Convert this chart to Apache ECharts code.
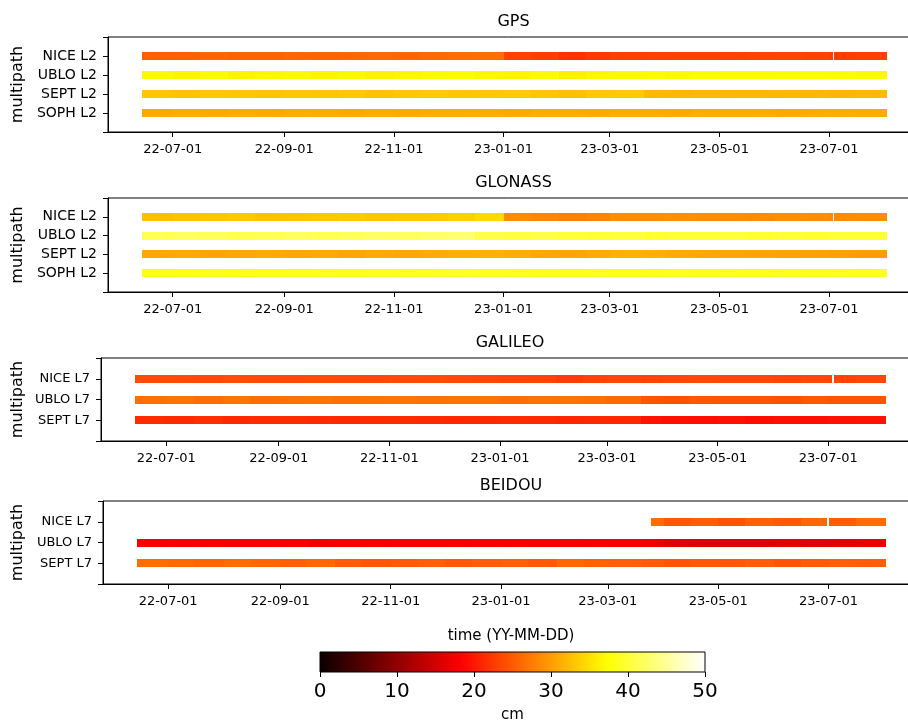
<!DOCTYPE html>
<html><head><meta charset="utf-8">
<script src="https://cdn.jsdelivr.net/npm/echarts@6/dist/echarts.min.js"></script>
<style>html,body{margin:0;padding:0;background:#fff}#c{width:908px;height:720px}</style>
</head><body><div id="c"></div>
<script>
// ---------- data ----------
// half-month blocks (start inclusive, next edge exclusive)
const blockEdges = ['2022-06-14','2022-07-01','2022-07-16','2022-08-01','2022-08-16','2022-09-01','2022-09-16',
  '2022-10-01','2022-10-16','2022-11-01','2022-11-16','2022-12-01','2022-12-16','2023-01-01','2023-01-16',
  '2023-02-01','2023-02-16','2023-03-01','2023-03-20','2023-04-01','2023-04-16','2023-05-01','2023-05-16',
  '2023-06-01','2023-06-16','2023-07-01','2023-07-16','2023-08-02'];
const xMinDate = '2022-05-26';
const xMaxDate = '2023-08-20';
const xTickDates = ['2022-07-01','2022-09-01','2022-11-01','2023-01-01','2023-03-01','2023-05-01','2023-07-01'];
const colorbarTicks = [0, 10, 20, 30, 40, 50];

// GPS (cm)
const gpsLabels = ['SOPH L2','SEPT L2','UBLO L2','NICE L2'];
const gpsNice = [25.3,25.5,25.8,25.6,25.7,25.9,25.6,25.8,26.0,25.8,26.2,26.3,26.5,23.0,22.8,22.0,22.6,22.9,23.0,23.2,23.1,23.0,23.3,23.4,23.2,22.8,22.9];
const gpsUblo = [36.8,36.5,36.9,36.4,36.6,36.8,36.5,36.7,36.3,36.6,36.9,37.1,36.6,36.4,36.9,36.2,36.6,36.8,37.0,36.8,37.2,37.0,37.1,37.3,37.4,37.3,36.9];
const gpsSept = [33.0,32.8,33.2,33.0,32.9,33.1,33.0,33.2,32.8,33.1,33.3,33.0,33.2,33.4,33.0,32.6,33.2,33.3,32.2,32.0,32.1,31.9,32.0,32.2,32.0,31.8,32.1];
const gpsSoph = [30.9,31.1,30.8,31.0,30.9,31.2,31.0,30.8,31.1,30.9,31.0,31.2,31.0,30.9,31.1,31.0,30.8,31.1,31.0,30.9,31.2,31.0,31.1,30.8,31.0,31.2,31.0];
// GLONASS (cm)
const gloLabels = ['SOPH L2','SEPT L2','UBLO L2','NICE L2'];
const gloNice = [32.5,32.8,33.0,33.2,32.7,32.9,33.1,33.3,33.0,33.2,33.4,33.8,34.5,28.6,28.3,27.8,28.2,28.8,28.9,29.0,28.8,28.9,28.7,29.0,28.8,28.6,28.9];
const gloUblo = [41.5,42.0,41.8,41.2,41.6,42.0,41.5,41.8,42.3,42.0,42.5,43.0,41.0,40.5,40.8,40.2,40.0,40.3,39.8,40.0,39.9,40.2,39.8,40.0,39.7,40.1,40.0];
const gloSept = [30.8,31.0,30.6,30.9,31.1,30.8,31.0,30.7,31.0,30.9,31.1,31.3,31.5,31.2,30.9,30.6,31.0,31.6,31.4,31.0,30.8,30.7,30.6,30.4,30.3,30.2,30.0];
const gloSoph = [38.3,38.6,38.8,38.5,38.7,38.9,39.0,38.8,39.2,39.0,39.3,39.5,39.2,39.0,38.8,38.9,39.0,38.7,38.9,39.1,38.8,39.0,38.9,39.1,38.8,39.0,38.9];
// GALILEO (cm)
const galLabels = ['SEPT L7','UBLO L7','NICE L7'];
const galNice = [23.9,24.0,23.8,24.1,23.9,23.8,24.0,23.9,23.7,23.9,24.0,23.8,23.6,23.5,23.3,22.8,23.4,23.6,23.5,23.7,23.8,23.6,23.7,23.5,23.6,23.4,23.6];
const galUblo = [26.6,26.9,26.5,26.8,26.4,26.7,26.9,26.6,26.8,27.0,26.7,26.9,26.8,26.5,26.7,26.9,26.6,26.2,24.6,24.4,24.7,24.5,24.6,24.4,24.8,24.5,24.6];
const galSept = [21.5,21.3,21.6,21.2,21.4,21.5,21.3,21.2,21.4,21.5,21.3,21.1,21.2,21.4,21.3,21.0,21.2,21.1,19.6,19.4,19.3,19.5,19.2,19.4,19.3,19.5,19.6];
// BEIDOU (cm)
const bdsLabels = ['SEPT L7','UBLO L7','NICE L7'];
const bdsNice = [null,null,null,null,null,null,null,null,null,null,null,null,null,null,null,null,null,null,26.5,24.8,25.3,24.5,25.5,25.0,26.0,25.2,26.3];
const bdsUblo = [17.6,17.4,17.7,17.3,17.5,17.6,17.2,17.4,17.7,17.5,17.3,17.6,17.4,17.7,17.5,17.3,17.6,17.4,16.8,16.2,15.8,15.9,16.0,16.3,16.1,16.4,16.6];
const bdsSept = [26.5,26.2,25.8,26.3,25.9,25.5,26.0,25.2,24.8,25.1,25.4,24.9,25.3,25.6,25.0,26.0,25.7,25.4,25.2,24.5,25.0,24.8,25.3,24.6,25.1,25.5,25.3];
const bdsNiceFrom = '2023-03-25';
// missing days
const gpsNiceGaps = ['2023-07-03'];
const gloNiceGaps = ['2023-07-03'];
const galNiceGaps = ['2023-07-03'];
const bdsNiceGaps = ['2023-06-30'];

// ---------- helpers ----------
const DAY = 86400000;
function ms(s){ const [y,m,d] = s.split('-').map(Number); return Date.UTC(y, m-1, d); }
function fmtDate(v){ const d = new Date(v); const p = n => String(n).padStart(2,'0');
  return p(d.getUTCFullYear()%100)+'-'+p(d.getUTCMonth()+1)+'-'+p(d.getUTCDate()); }
function stripItems(values, y, gaps, from){
  const out = [];
  for (let i = 0; i < values.length; i++){
    if (values[i] == null) continue;
    let s = ms(blockEdges[i]), e = ms(blockEdges[i+1]);
    if (from) s = Math.max(s, ms(from));
    if (s >= e) continue;
    let pieces = [[s,e]];
    (gaps||[]).forEach(g => {
      const gs = ms(g), ge = gs + DAY;
      pieces = pieces.flatMap(([a,b]) => (ge <= a || gs >= b) ? [[a,b]] : [[a,gs],[ge,b]].filter(p => p[1] > p[0]));
    });
    pieces.forEach(([a,b]) => out.push([a, b, y, values[i]]));
  }
  return out;
}
const hotStops = [[0,[11,0,0]],[0.365079,[255,0,0]],[0.746032,[255,255,0]],[1,[255,255,255]]];
function hot(t){
  for (let i = 0; i < hotStops.length-1; i++){
    const [o0,c0] = hotStops[i], [o1,c1] = hotStops[i+1];
    if (t <= o1){ const f = (t-o0)/(o1-o0);
      return 'rgb(' + c0.map((c,k) => Math.round(c + (c1[k]-c)*f)).join(',') + ')'; }
  }
  return 'rgb(255,255,255)';
}
const hotColors = Array.from({length:201}, (_, i) => hot(i/200));

const panels = [
  {title:'GPS', labels:gpsLabels, rows:[[gpsSoph],[gpsSept],[gpsUblo],[gpsNice,gpsNiceGaps]], left:108, top:37, height:95, ylFont:14, titleY:21.5},
  {title:'GLONASS', labels:gloLabels, rows:[[gloSoph],[gloSept],[gloUblo],[gloNice,gloNiceGaps]], left:108, top:198, height:94, ylFont:14, titleY:182.5},
  {title:'GALILEO', labels:galLabels, rows:[[galSept],[galUblo],[galNice,galNiceGaps]], left:101, top:358, height:83, ylFont:13, titleY:343},
  {title:'BEIDOU', labels:bdsLabels, rows:[[bdsSept],[bdsUblo],[bdsNice,bdsNiceGaps,bdsNiceFrom]], left:103, top:501, height:83, ylFont:13, titleY:486}
];
const RIGHT = -11;
const FONT = 'DejaVu Sans';
const black = '#000';

const grid = [], xAxis = [], yAxis = [], series = [], graphic = [];
panels.forEach((p, i) => {
  grid.push({left:p.left, right:RIGHT, top:p.top, height:p.height, show:true, borderColor:black, borderWidth:1,
    backgroundColor:'transparent', containLabel:false, outerBoundsMode:'none'});
  xAxis.push({type:'value', gridIndex:i, min:ms(xMinDate), max:ms(xMaxDate), splitLine:{show:false},
    axisLine:{show:true, onZero:false, lineStyle:{color:black, width:1}},
    axisTick:{show:true, customValues:xTickDates.map(ms), length:5, lineStyle:{color:black, width:1}},
    axisLabel:{customValues:xTickDates.map(ms), formatter:fmtDate, color:black, fontSize:13, fontFamily:FONT, margin:11}});
  yAxis.push({type:'value', gridIndex:i, min:-1, max:p.labels.length, interval:1, splitLine:{show:false},
    axisLine:{show:true, onZero:false, lineStyle:{color:black, width:1}},
    axisTick:{show:true, length:5, lineStyle:{color:black, width:1}},
    axisLabel:{formatter:v => p.labels[v] || '', color:black, fontSize:p.ylFont, fontFamily:FONT, margin:11}});
  let data = [];
  p.rows.forEach((r, y) => { data = data.concat(stripItems(r[0], y, r[1], r[2])); });
  series.push({type:'custom', xAxisIndex:i, yAxisIndex:i, data:data, encode:{x:[0,1], y:2}, clip:true,
    renderItem:(params, api) => {
      const a = api.coord([api.value(0), api.value(2)]);
      const b = api.coord([api.value(1), api.value(2)]);
      const h = 8;
      const x0 = Math.round(a[0]), x1 = Math.round(b[0]);
      return {type:'rect', shape:{x:x0, y:Math.round(a[1]-h/2), width:x1-x0, height:h},
        style:{fill:api.visual('color')}};
    }});
  graphic.push({type:'text', x:(p.left + 908 - RIGHT)/2, y:p.titleY,
    style:{text:p.title, fontSize:16, fontFamily:FONT, fill:black, align:'center', verticalAlign:'middle'}});
  graphic.push({type:'text', x:17.5, y:p.top + p.height/2, rotation:Math.PI/2,
    style:{text:'multipath', fontSize:16, fontFamily:FONT, fill:black, align:'center', verticalAlign:'middle'}});
});
graphic.push({type:'text', x:511, y:636,
  style:{text:'time (YY-MM-DD)', fontSize:15, fontFamily:FONT, fill:black, align:'center', verticalAlign:'middle'}});

// colorbar
grid.push({left:320, width:385, top:652, height:20, show:true, borderColor:black, borderWidth:1,
  backgroundColor:'transparent', containLabel:false, outerBoundsMode:'none', z:5});
xAxis.push({type:'value', gridIndex:4, min:0, max:50, splitLine:{show:false}, axisLine:{show:false},
  axisTick:{show:true, customValues:colorbarTicks, length:5, lineStyle:{color:black}},
  axisLabel:{customValues:colorbarTicks, color:black, fontSize:20, fontFamily:FONT, margin:10},
  name:'cm', nameLocation:'middle', nameGap:36, nameTextStyle:{fontSize:15, fontFamily:FONT, color:black}});
yAxis.push({type:'value', gridIndex:4, min:0, max:1, show:false});
series.push({type:'custom', xAxisIndex:4, yAxisIndex:4, data:[[0,50]], encode:{x:[0,1]},
  renderItem:(params, api) => {
    const cs = params.coordSys;
    const a = api.coord([api.value(0), 0]), b = api.coord([api.value(1), 0]);
    return {type:'rect', shape:{x:a[0], y:cs.y, width:b[0]-a[0], height:cs.height},
      style:{fill:new echarts.graphic.LinearGradient(0,0,1,0,
        hotStops.map(([o,c]) => ({offset:o, color:'rgb('+c.join(',')+')'})))}};
  }});

const chart = echarts.init(document.getElementById('c'), null, {renderer:'canvas'});
chart.setOption({
  animation:false,
  backgroundColor:'#fff',
  textStyle:{fontFamily:FONT},
  grid, xAxis, yAxis, series, graphic,
  visualMap:{type:'continuous', show:false, min:0, max:50, dimension:3, seriesIndex:[0,1,2,3],
    inRange:{color:hotColors}}
});
</script>
</body></html>
